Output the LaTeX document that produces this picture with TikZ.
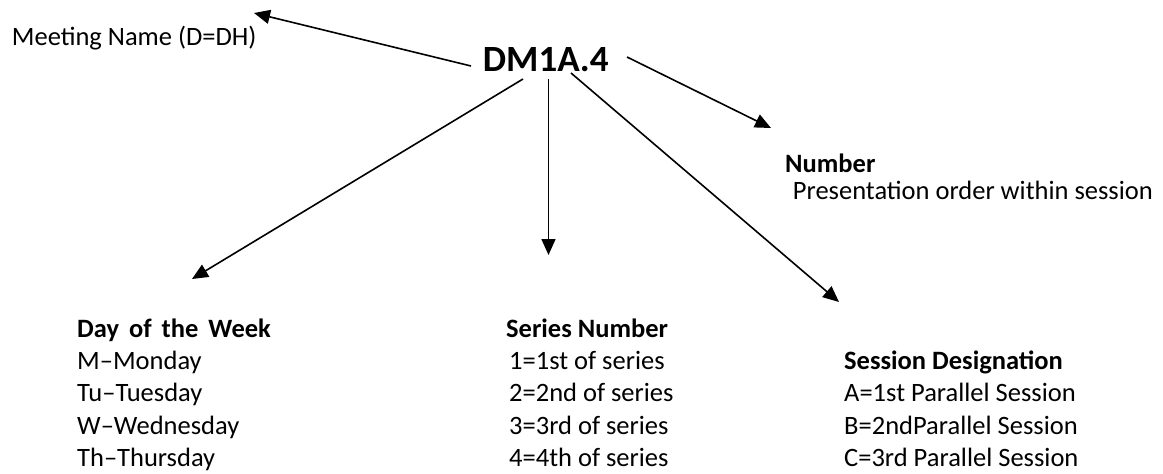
\documentclass[tikz,border=0pt]{standalone}
\usepackage{fontspec}
\setmainfont{Carlito}
\usetikzlibrary{arrows.meta}
\tikzset{
  txt/.style={anchor=base west, inner sep=0pt, font=\fontsize{26.5}{32}\selectfont},
  hdr/.style={txt, font=\fontsize{26.5}{32}\selectfont\bfseries},
  code/.style={anchor=base west, inner sep=0pt, font=\fontsize{37}{44}\selectfont\bfseries},
  arr/.style={line width=1.6pt, -{Triangle[length=16pt,width=14pt]}}
}
\begin{document}
\begin{tikzpicture}[x=1pt,y=-1pt]
\useasboundingbox (0,0) rectangle (1163,474);
% texts
\node[txt]  (meet) at (11.7,45) {Meeting Name (D=DH)};
\node[code] (dm)   at (482.7,71.7) {DM1A.4};
\node[hdr]  (num)  at (785,172) {Number};
\node[txt]  (pres) at (792.7,199) {Presentation order within session};
% day of week
\node[hdr] (day0) at (77,337) {Day\hspace{4pt} of\hspace{4pt} the\hspace{4pt} Week};
\node[txt] (day1) at (77,369) {M–Monday};
\node[txt] (day2) at (77,401.5) {Tu–Tuesday};
\node[txt] (day3) at (77,434) {W–Wednesday};
\node[txt] (day4) at (77,466.5) {Th–Thursday};
% series
\node[hdr] (ser0) at (506,337) {Series Number};
\node[txt] (ser1) at (509,369) {1=1st of series};
\node[txt] (ser2) at (509,401.5) {2=2nd of series};
\node[txt] (ser3) at (509,434) {3=3rd of series};
\node[txt] (ser4) at (509,466.5) {4=4th of series};
% session
\node[hdr] (ses0) at (844,369) {Session Designation};
\node[txt] (ses1) at (844,401.5) {A=1st Parallel Session};
\node[txt] (ses2) at (844,434) {B=2ndParallel Session};
\node[txt] (ses3) at (844,466.5) {C=3rd Parallel Session};
% connector ends
\coordinate (sMeet) at (471,66);
\coordinate (tMeet) at (254,13);
\coordinate (sNum) at (627,57);
\coordinate (tNum) at (771,128);
\coordinate (sDay) at (523,79);
\coordinate (tDay) at (192,279);
\coordinate (sSer) at (548.5,79);
\coordinate (tSer) at (548.5,255);
\coordinate (sSes) at (571,73);
\coordinate (tSes) at (839,302);
\draw[arr] (sMeet) -- (tMeet);
\draw[arr] (sNum) -- (tNum);
\draw[arr] (sDay) -- (tDay);
\draw[arr] (sSer) -- (tSer);
\draw[arr] (sSes) -- (tSes);
\end{tikzpicture}
\end{document}
